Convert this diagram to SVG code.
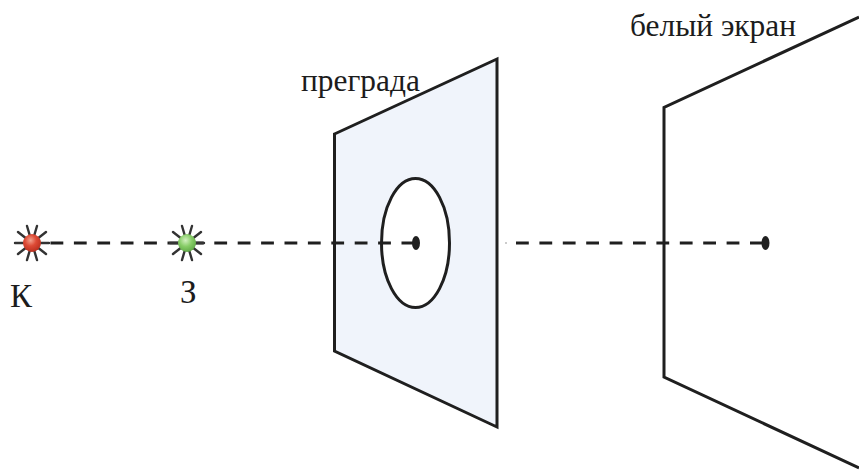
<svg xmlns="http://www.w3.org/2000/svg" width="859" height="470" viewBox="0 0 859 470">
<style>
text{font-family:"Liberation Serif","Times New Roman",serif;font-size:31.400px;fill:#1c1c1c}
text.s{font-size:33px}
.pl{stroke:#1f1f1f;stroke-width:3;stroke-linejoin:miter}
.ray{stroke:#1f1f1f;stroke-width:3;stroke-dasharray:12.8 10.6;fill:none}
.sp{stroke:#333;stroke-width:2.4;stroke-linecap:round}
</style>
<defs>
<radialGradient id="r" cx="0.42" cy="0.35" r="0.7"><stop offset="0" stop-color="#f2a08c"/><stop offset="0.45" stop-color="#dd4a35"/><stop offset="1" stop-color="#b52c1c"/></radialGradient>
<radialGradient id="g" cx="0.42" cy="0.35" r="0.7"><stop offset="0" stop-color="#d2f0c0"/><stop offset="0.5" stop-color="#86cc66"/><stop offset="1" stop-color="#5da645"/></radialGradient>
<g id="spikes"><path class="sp" d="M-17 0H17M-14 -11L14 11M-14 11L14 -11M-5 -17L5 17M5 -17L-5 17"/></g>
</defs>
<g id="barrier">
<path class="pl" d="M334.500 134L497 59V427L334.500 351Z" fill="#f0f4fb"/>
<ellipse cx="415.500" cy="243" rx="34" ry="64.500" fill="#fff" stroke="#1f1f1f" stroke-width="3"/>
<text x="301" y="91">преграда</text>
</g>
<g id="screen">
<path class="pl" d="M859 17L664 107.500V377L859 468" fill="none"/>
<text x="630" y="36">белый экран</text>
</g>
<g id="connectors">
<path class="ray" d="M50.500 243H415"/>
<path class="ray" d="M516 243H765"/>
<path d="M505 243h2" stroke="#ccc" stroke-width="2"/>
<ellipse cx="416" cy="243" rx="4" ry="7" fill="#1f1f1f"/>
<ellipse cx="765.500" cy="243" rx="4" ry="7" fill="#1f1f1f"/>
</g>
<g id="source-k">
<use href="#spikes" x="32" y="243"/>
<circle cx="32" cy="243" r="9" fill="url(#r)"/>
<text class="s" x="10" y="307">К</text>
</g>
<g id="source-z">
<use href="#spikes" x="187" y="243"/>
<circle cx="187" cy="243" r="9" fill="url(#g)"/>
<text class="s" x="180" y="303">З</text>
</g>
</svg>
